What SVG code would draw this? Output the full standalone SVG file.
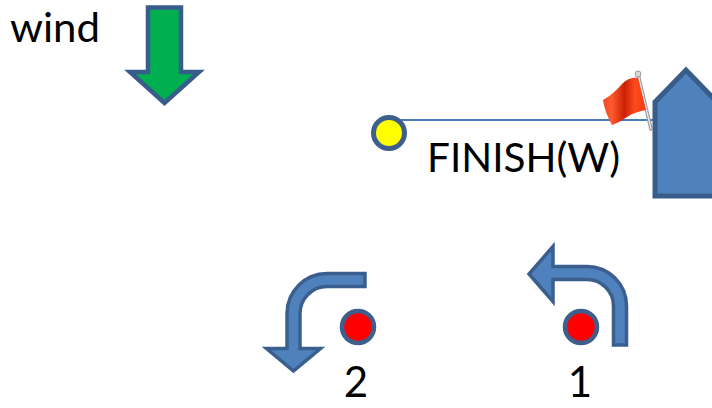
<svg xmlns="http://www.w3.org/2000/svg" width="712" height="408" viewBox="0 0 712 408">
<style>
.lbl{font-family:Lato,"Liberation Sans",sans-serif;fill:#000;}
.blue{fill:#4f81bd;stroke:#3a5f8f;stroke-width:3.5;stroke-linejoin:miter;}
.dot{stroke:#3e5f8e;stroke-width:4.5;}
</style>
<defs>
<linearGradient id="flagG" x1="0" y1="0" x2="1" y2="0">
<stop offset="0" stop-color="#f04a22"/>
<stop offset="0.2" stop-color="#ff5a2e"/>
<stop offset="0.5" stop-color="#cc2006"/>
<stop offset="0.75" stop-color="#ff4a1e"/>
<stop offset="1" stop-color="#f03a14"/>
</linearGradient>
</defs>
<rect width="712" height="408" fill="#fff"/>
<g id="wind">
<text class="lbl" x="10" y="42" font-size="41" textLength="90" lengthAdjust="spacingAndGlyphs">wind</text>
<path d="M148,7.5 H181 V72 H199 L164.5,103 L130,72 H148 Z" fill="#00b050" stroke="#385d8a" stroke-width="4.5"/>
</g>
<g id="connectors">
<line x1="389" y1="120" x2="656" y2="120" stroke="#4a7ebb" stroke-width="2"/>
</g>
<g id="pin-end">
<circle cx="389" cy="133" r="15.5" fill="#ffff00" stroke="#3e5f8e" stroke-width="5"/>
</g>
<g id="finish-label">
<text class="lbl" x="427" y="172" font-size="41" textLength="193" lengthAdjust="spacingAndGlyphs">FINISH(W)</text>
</g>
<g id="committee-boat">
<path d="M655,196 V102 L686,70 L717,102 V196 Z" fill="#4f81bd" stroke="#385d8a" stroke-width="5"/>
</g>
<g id="flag">
<line x1="638" y1="74" x2="651" y2="129" stroke="#9a9a9a" stroke-width="3.5" stroke-linecap="round"/>
<line x1="638" y1="74" x2="651" y2="129" stroke="#ececec" stroke-width="1.2" stroke-linecap="round"/>
<circle cx="638" cy="74" r="3" fill="#d8d8d8" stroke="#888" stroke-width="0.8"/>
<path d="M638,78 C632,77 627,79 622,84 C617,90 610,96 603,100 C604,108 608,118 612,125 C618,123 622,120 627,117 C633,113 640,111 646,110 Z" fill="url(#flagG)"/>
</g>
<g id="mark-2">
<path class="blue" d="M365,273.5 H327 A40,40 0 0 0 287,313.5 V348.5 H266.5 L293.5,371 L320.5,348.5 H300 V313.5 A27,27 0 0 1 327,286.5 H365 Z"/>
<circle class="dot" cx="358" cy="327" r="16" fill="#ff0000"/>
<text class="lbl" x="356" y="397" font-size="42" text-anchor="middle">2</text>
</g>
<g id="mark-1">
<path class="blue" d="M626.5,345 V306 A39.5,39.5 0 0 0 587,266.5 H553 V246.5 L529,274 L553,301.5 V279.5 H587 A26.5,26.5 0 0 1 613.5,306 V345 Z"/>
<circle class="dot" cx="581" cy="327" r="16" fill="#ff0000"/>
<text class="lbl" x="580" y="397" font-size="42" text-anchor="middle">1</text>
</g>
</svg>
